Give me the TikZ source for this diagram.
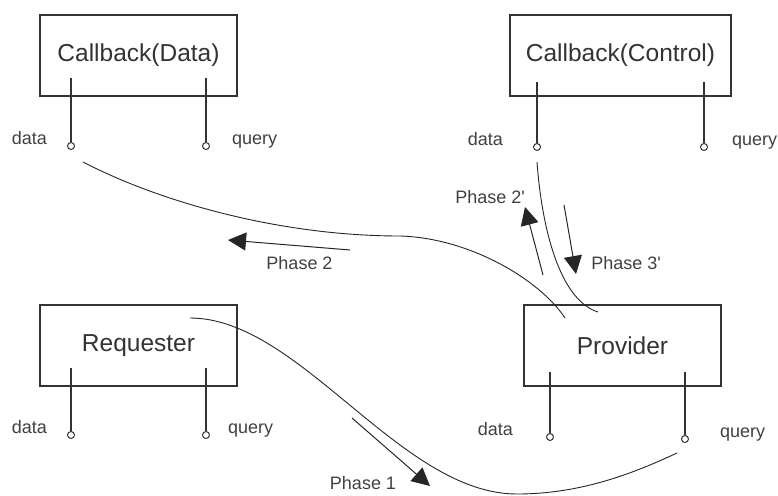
\documentclass[tikz,border=0pt]{standalone}
\usepackage{fontspec}
\setmainfont{Liberation Sans}[Ligatures=TeXOff]
\usetikzlibrary{arrows.meta}
\usetikzlibrary{positioning}

\tikzset{
  box/.style={draw=black!80, line width=1.2pt, minimum height=81pt, inner sep=0pt,
              font=\fontsize{24.5}{28}\selectfont, text=black!80},
  port/.style={draw=black!80, circle, fill=white, inner sep=0pt, minimum size=7pt, line width=1pt},
  pin/.style={draw=black!80, line width=1.3pt},
  lbl/.style={font=\fontsize{18}{21}\selectfont, text=black!75, inner sep=0pt,
              text height=13pt, text depth=4pt},
  portlbl/.style={lbl, yshift=6pt},
  flow/.style={draw=black!85, line width=0.9pt},
  phase/.style={draw=black!85, line width=1pt, -{Triangle[length=18pt,width=18pt]}},
}

\begin{document}
\begin{tikzpicture}[x=1pt, y=-1pt]
            \useasboundingbox (0,0) rectangle (778,495);

            % boxes
            \node[box, minimum width=197pt] (cbd) at (138.5,55.5) {Callback(Data)};
            \node[box, minimum width=221pt] (cbc) at (620.5,55.5) {Callback(Control)};
            \node[box, minimum width=197pt] (req) at (138.5,345.5) {Requester};
            \node[box, minimum width=197pt] (prv) at (622.5,345.5) {Provider};

            % pins: name / x / y of the port / y where the pin starts
            \foreach \n/\x/\y/\t in {cbdD/71/146/78, cbdQ/206/146/78,
                                     cbcD/537/147/82, cbcQ/704/147/82,
                                     reqD/71/435/368, reqQ/206/435/368,
                                     prvD/550/437/372, prvQ/685/439/372}{
              \coordinate (\n top) at (\x,\t);
              \node[port] (\n) at (\x,\y) {};
              \draw[pin] (\n top) -- (\n);
            }

            % port labels
            \node[portlbl, left=20pt of cbdD] {data};
            \node[portlbl, right=22pt of cbdQ] {query};
            \node[portlbl, left=30pt of cbcD] {data};
            \node[portlbl, right=24pt of cbcQ] {query};
            \node[portlbl, left=20pt of reqD] {data};
            \node[portlbl, right=18pt of reqQ] {query};
            \node[portlbl, left=33pt of prvD] {data};
            \node[portlbl, right=31pt of prvQ] {query};

            % flows
            \coordinate (p1a) at (190,318);
            \coordinate (p1b) at (677,453);
            \coordinate (p2a) at (83,162);
            \coordinate (p2b) at (565,318);
            \coordinate (p3a) at (537,162);
            \coordinate (p3b) at (598,312);
            \draw[flow] (p1a) .. controls (300,318) and (400,494) .. (517,494)
                              .. controls (580,494) and (632,474) .. (p1b);
            \draw[flow] (p2a) .. controls (160,202) and (280,236) .. (400,236)
                              .. controls (470,238) and (540,280) .. (p2b);
            \draw[flow] (p3a) .. controls (542,230) and (560,300) .. (p3b);

            % phase arrows
            \coordinate (a1s) at (352,418);
            \coordinate (a1e) at (430,486);
            \coordinate (a2s) at (350,250);
            \coordinate (a2e) at (228,240);
            \coordinate (a3s) at (543,275);
            \coordinate (a3e) at (525,207);
            \coordinate (a4s) at (564,205);
            \coordinate (a4e) at (576,274);
            \draw[phase] (a1s) -- (a1e);
            \draw[phase] (a2s) -- (a2e);
            \draw[phase] (a3s) -- (a3e);
            \draw[phase] (a4s) -- (a4e);

            \node[lbl] (ph1) at (363,485) {Phase 1};
            \node[lbl] (ph2) at (299.5,265) {Phase 2};
            \node[lbl] (ph2p) at (490,199) {Phase 2'};
            \node[lbl] (ph3p) at (626,265) {Phase 3'};

            \end{tikzpicture}
\end{document}
